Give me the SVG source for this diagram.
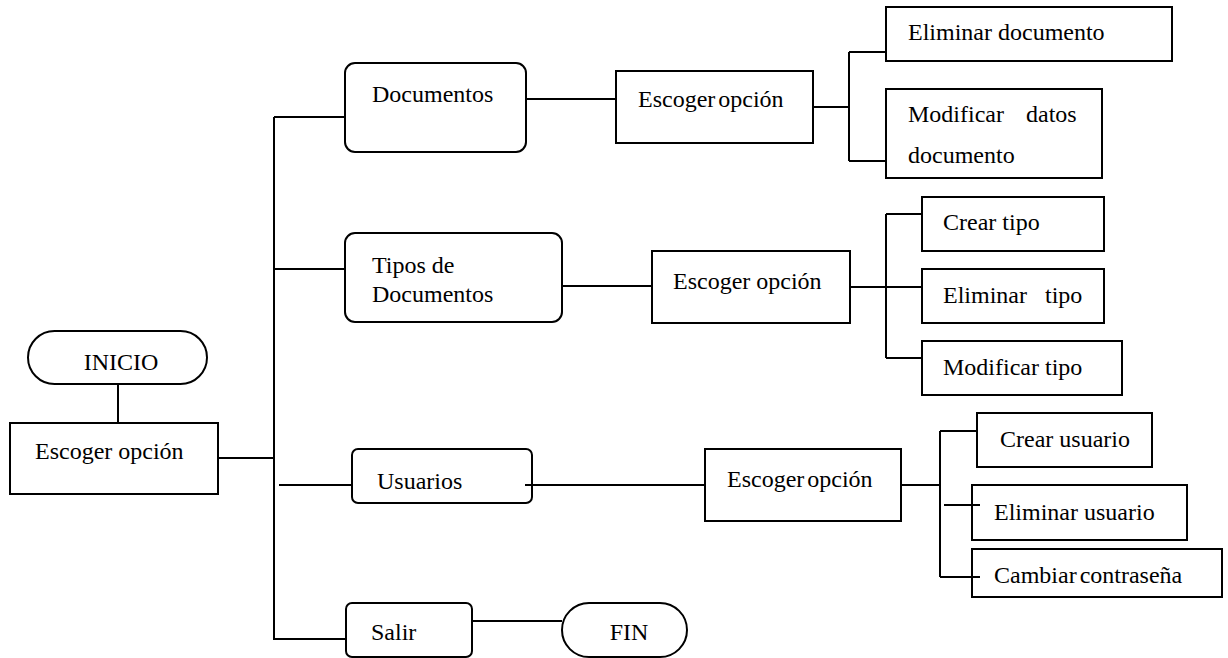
<svg xmlns="http://www.w3.org/2000/svg" width="1228" height="658" viewBox="0 0 1228 658" font-family="'Liberation Serif', 'DejaVu Serif', serif">
<style>
.b{fill:#fff;stroke:#000;stroke-width:2}
.l{fill:none;stroke:#000;stroke-width:2}
text{font-size:24px;fill:#000}
</style>
<rect width="1228" height="658" fill="#fff"/>
<g id="connectors">
<path class="l" d="M118 372V423"/>
<path class="l" d="M219 458H274M274 117V639H346M274 117H345M274 269H345M279 485H352"/>
<path class="l" d="M526 99H616M813 107H849M849 52V161M849 52H886M849 161H886"/>
<path class="l" d="M562 286H652M850 287H922M886 214V358M886 214H922M886 358H922"/>
<path class="l" d="M525 485H705M901 485H940M940 431V577M940 431H977M944 505H980M940 577H980"/>
<path class="l" d="M472 621H562"/>
</g>
<g id="inicio"><rect class="b" x="28" y="331" width="179" height="53" rx="26.5"/><text x="121" y="370" text-anchor="middle">INICIO</text></g>
<g id="escoger-main"><rect class="b" x="10" y="423" width="208" height="71"/><text x="35" y="459">Escoger opción</text></g>
<g id="documentos"><rect class="b" x="345" y="63" width="181" height="89" rx="10"/><text x="372" y="102">Documentos</text></g>
<g id="escoger-doc"><rect class="b" x="616" y="71" width="197" height="72"/><text x="638" y="107" word-spacing="-3">Escoger opción</text></g>
<g id="eliminar-doc"><rect class="b" x="886" y="7" width="286" height="54"/><text x="908" y="40">Eliminar documento</text></g>
<g id="modificar-doc"><rect class="b" x="886" y="89" width="216" height="89"/><text x="908" y="122">Modificar<tspan x="1026">datos</tspan></text><text x="908" y="163">documento</text></g>
<g id="tipos"><rect class="b" x="345" y="233" width="217" height="89" rx="10"/><text x="372" y="273">Tipos de</text><text x="372" y="302">Documentos</text></g>
<g id="escoger-tipos"><rect class="b" x="652" y="251" width="198" height="72"/><text x="673" y="289">Escoger opción</text></g>
<g id="crear-tipo"><rect class="b" x="922" y="197" width="182" height="54"/><text x="943" y="230">Crear tipo</text></g>
<g id="eliminar-tipo"><rect class="b" x="922" y="269" width="182" height="54"/><text x="943" y="303">Eliminar<tspan x="1045">tipo</tspan></text></g>
<g id="modificar-tipo"><rect class="b" x="922" y="341" width="200" height="54"/><text x="943" y="375">Modificar tipo</text></g>
<g id="usuarios"><rect class="b" x="352" y="449" width="180" height="54" rx="6"/><text x="377" y="489">Usuarios</text><path class="l" d="M525 485H533"/></g>
<g id="escoger-usr"><rect class="b" x="705" y="449" width="196" height="72"/><text x="727" y="487" word-spacing="-3">Escoger opción</text></g>
<g id="crear-usr"><rect class="b" x="977" y="413" width="175" height="54"/><text x="1000" y="447">Crear usuario</text></g>
<g id="eliminar-usr"><rect class="b" x="972" y="485" width="215" height="55"/><text x="994" y="520">Eliminar usuario</text><path class="l" d="M972 505H980"/></g>
<g id="cambiar"><rect class="b" x="972" y="549" width="250" height="48"/><text x="994" y="583" word-spacing="-3">Cambiar contraseña</text><path class="l" d="M972 577H980"/></g>
<g id="salir"><rect class="b" x="346" y="603" width="126" height="54" rx="6"/><text x="371" y="640">Salir</text></g>
<g id="fin"><rect class="b" x="562" y="603" width="125" height="54" rx="27"/><text x="629" y="640" text-anchor="middle">FIN</text></g>
</svg>
